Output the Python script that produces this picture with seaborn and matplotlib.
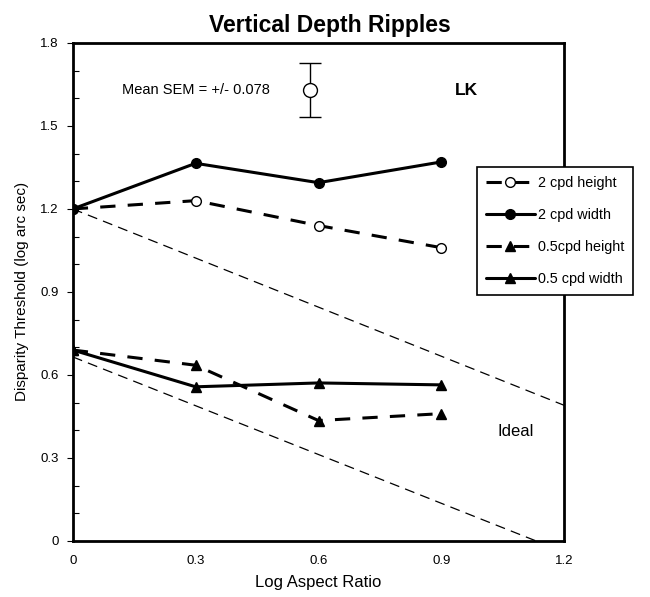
import pandas as pd
import numpy as np
import matplotlib
matplotlib.use("Agg")
import matplotlib.pyplot as plt
import seaborn as sns
from matplotlib.ticker import MultipleLocator

# data
log_aspect = [0, 0.3, 0.6, 0.9]
h2_height = [1.20, 1.23, 1.14, 1.06]
h2_width = [1.20, 1.365, 1.295, 1.37]
h05_height = [0.69, 0.635, 0.435, 0.46]
h05_width = [0.69, 0.557, 0.571, 0.564]

ideal_upper_x = [0, 1.2]
ideal_upper_y = [1.2, 0.49]
ideal_lower_x = [0, 1.131]
ideal_lower_y = [0.665, 0.0]

sem_x = 0.58
sem_y = 1.63
sem_err = 0.097

sns.set_style("white")
plt.rcParams['font.family'] = ['Liberation Sans', 'DejaVu Sans']
plt.rcParams['text.color'] = 'black'
plt.rcParams['axes.labelcolor'] = 'black'
plt.rcParams['xtick.color'] = 'black'
plt.rcParams['ytick.color'] = 'black'

fig = plt.figure(figsize=(6.5, 5.97), dpi=100)
ax = fig.add_axes([0.112, 0.094, 0.756, 0.834])

series = [
    ("2 cpd height", h2_height, "--", "o", "white"),
    ("2 cpd width", h2_width, "-", "o", "black"),
    ("0.5cpd height", h05_height, "--", "^", "black"),
    ("0.5 cpd width", h05_width, "-", "^", "black"),
]

for name, vals, ls, mk, fc in series:
    df = pd.DataFrame({"x": log_aspect, "y": vals})
    sns.lineplot(data=df, x="x", y="y", ax=ax, color="black", linewidth=2.2,
                 linestyle=ls, marker=mk, markersize=7, markerfacecolor=fc,
                 markeredgecolor="black", markeredgewidth=1.0, label=name)
    if ls == "--":
        ax.lines[-1].set_dashes([5, 4])

# ideal lines
ax.plot(ideal_upper_x, ideal_upper_y, color="black", lw=0.9, dashes=[8, 5])
ax.plot(ideal_lower_x, ideal_lower_y, color="black", lw=0.9, dashes=[8, 5])

# mean SEM marker
ax.errorbar([sem_x], [sem_y], yerr=[sem_err], fmt="o", markersize=10,
            markerfacecolor="white", markeredgecolor="black", ecolor="black",
            elinewidth=1, capsize=8, capthick=1)

ax.text(0.12, 1.63, "Mean SEM = +/- 0.078", fontsize=10.5, va="center")
ax.text(0.934, 1.63, "LK", fontsize=12.5, fontweight="bold", va="center")
ax.text(1.036, 0.395, "Ideal", fontsize=12, va="center")

ax.set_xlim(0, 1.2)
ax.set_ylim(0, 1.8)
ax.set_xticks([0, 0.3, 0.6, 0.9, 1.2])
ax.set_xticklabels(["0", "0.3", "0.6", "0.9", "1.2"])
ax.set_yticks([0, 0.3, 0.6, 0.9, 1.2, 1.5, 1.8])
ax.set_yticklabels(["0", "0.3", "0.6", "0.9", "1.2", "1.5", "1.8"])
ax.yaxis.set_minor_locator(MultipleLocator(0.1))
ax.tick_params(axis="y", which="major", direction="out", length=4, width=0.8,
               labelsize=9.5, left=True, pad=6)
ax.tick_params(axis="y", which="minor", direction="in", length=4, width=0.8, left=True)
ax.tick_params(axis="x", which="major", length=0, labelsize=9.5, pad=10)

for s in ax.spines.values():
    s.set_color("black")
    s.set_linewidth(2)

ax.set_xlabel("Log Aspect Ratio", fontsize=12, labelpad=6)
ax.set_ylabel("Disparity Threshold (log arc sec)", fontsize=11, labelpad=8)
fig.text(0.508, 0.958, "Vertical Depth Ripples", fontsize=16.5, fontweight="bold",
         ha="center", va="center")

leg = ax.legend(loc="upper left", bbox_to_anchor=(0.734, 0.72), bbox_transform=fig.transFigure,
                frameon=True, fancybox=False, fontsize=10.4, handlelength=3.4,
                labelspacing=1.25, borderpad=0.6, handletextpad=0.2, borderaxespad=0)
leg.get_frame().set_edgecolor("black")
leg.get_frame().set_linewidth(1.2)
leg.get_frame().set_facecolor("white")
leg.get_frame().set_alpha(1)
leg.set_zorder(10)

fig.savefig("out.png", dpi=100)
